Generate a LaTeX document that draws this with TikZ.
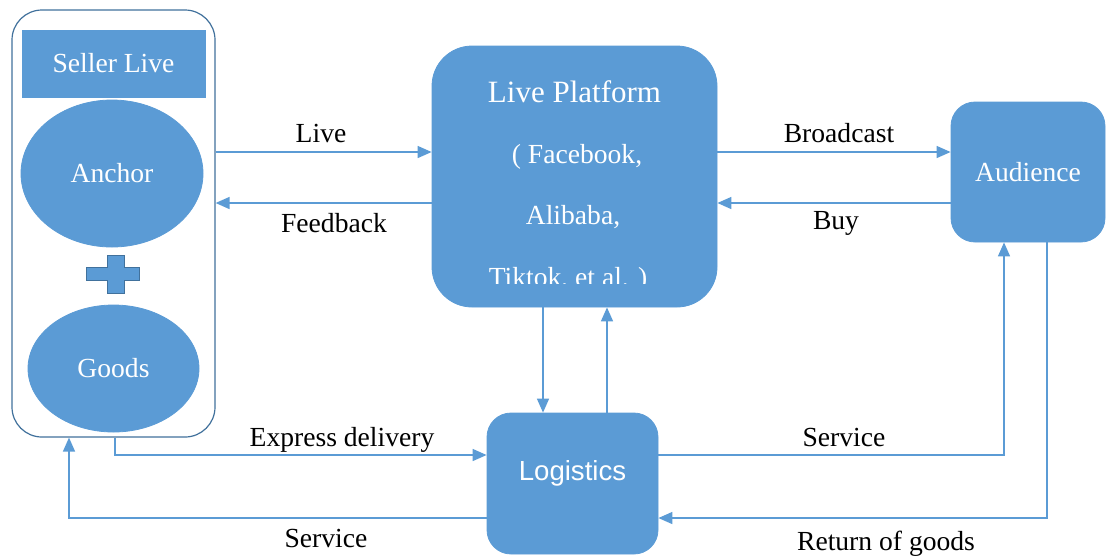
\documentclass[tikz,border=0pt]{standalone}
\usepackage{fontspec}
\setmainfont{Liberation Serif}
\newfontfamily\arialfont{Liberation Sans}
\usetikzlibrary{arrows.meta,shapes.geometric}
\definecolor{boxblue}{RGB}{91,155,213}
\definecolor{edgeblue}{RGB}{65,113,156}

\begin{document}
\begin{tikzpicture}[x=0.5pt,y=-0.5pt,
    txt/.style={font=\fontsize{13.8}{16}\selectfont, inner sep=0pt},
    blk/.style={txt, fill=boxblue, draw=boxblue, text=white},
    conn/.style={boxblue, line width=0.75pt, -{Triangle[length=7pt,width=6pt]}}]
    \useasboundingbox (0,0) rectangle (1106,559);

    % seller side
    \node[draw=edgeblue, line width=0.6pt, fill=white, rounded corners=15pt,
        minimum width=101.5pt, minimum height=213.5pt] (seller) at (113.5,223.5) {};
    \node[blk, minimum width=91.5pt, minimum height=33.5pt] (sellertitle) at (113.5,63.5) {Seller Live};
    \node[blk, ellipse, minimum width=91pt, minimum height=73.5pt] (anchor) at (112,173.5) {Anchor};
    \draw[fill=boxblue, draw=edgeblue, line width=0.4pt] (107,255) -- (124,255) -- (124,267) -- (139,267)
        -- (139,280) -- (124,280) -- (124,293) -- (107,293) -- (107,280) -- (86,280) -- (86,267) -- (107,267) -- cycle; % plus
    \node[blk, ellipse, minimum width=85.5pt, minimum height=63.5pt] (goods) at (113.5,368.5) {Goods};

    % platform, audience, logistics
    \node[blk, rounded corners=20pt, minimum width=142.5pt, minimum height=130.5pt] (plat) at (574.5,176.5) {};
    \begin{scope}
        \clip (432,46) rectangle (717,283);
        \node[txt, text=white, anchor=base, font=\fontsize{15.5}{18}\selectfont] (plat1) at (574.5,102) {Live Platform};
        \node[txt, text=white, anchor=base] (plat2) at (577,163) {( Facebook,};
        \node[txt, text=white, anchor=base] (plat3) at (573,224) {Alibaba,};
        \node[txt, text=white, anchor=base] (plat4) at (568,286) {Tiktok, et al. )};
    \end{scope}
    \node[blk, rounded corners=12pt, minimum width=77pt, minimum height=70pt] (aud) at (1028,172) {Audience};
    \node[blk, font=\arialfont\fontsize{13.8}{16}\selectfont, text height=10pt, text depth=13.5pt,
        rounded corners=12pt, minimum width=85.5pt, minimum height=70.5pt] (logi) at (572.5,483.5) {Logistics};

    % connectors
    \draw[conn] (seller.east |- 0,152) -- (plat.west |- 0,152);
    \draw[conn] (plat.west |- 0,203) -- (seller.east |- 0,203);
    \draw[conn] (plat.east |- 0,152) -- (aud.west |- 0,152);
    \draw[conn] (aud.west |- 0,203) -- (plat.east |- 0,203);
    \draw[conn] (plat.south -| 543,0) -- (logi.north -| 543,0);
    \draw[conn] (logi.north -| 607,0) -- (plat.south -| 607,0);
    \draw[conn] (seller.south -| 115,0) |- (logi.west |- 0,455); % express delivery
    \draw[conn] (logi.west |- 0,518) -| (seller.south -| 69,0);
    \draw[conn] (logi.east |- 0,455) -| (aud.south -| 1004,0);
    \draw[conn] (aud.south -| 1047,0) |- (logi.east |- 0,518); % returns

    % labels
    \node[txt] (lblLive) at (321,133) {Live};
    \node[txt] (lblFeedback) at (334,223) {Feedback};
    \node[txt] (lblBroadcast) at (839,133) {Broadcast};
    \node[txt] (lblBuy) at (836,223) {Buy};
    \node[txt] (lblExpress) at (342,440) {Express delivery};
    \node[txt] (lblServiceL) at (326,538) {Service};
    \node[txt] (lblServiceR) at (844,437) {Service};
    \node[txt] (lblReturn) at (886,544) {Return of goods};
\end{tikzpicture}
\end{document}
